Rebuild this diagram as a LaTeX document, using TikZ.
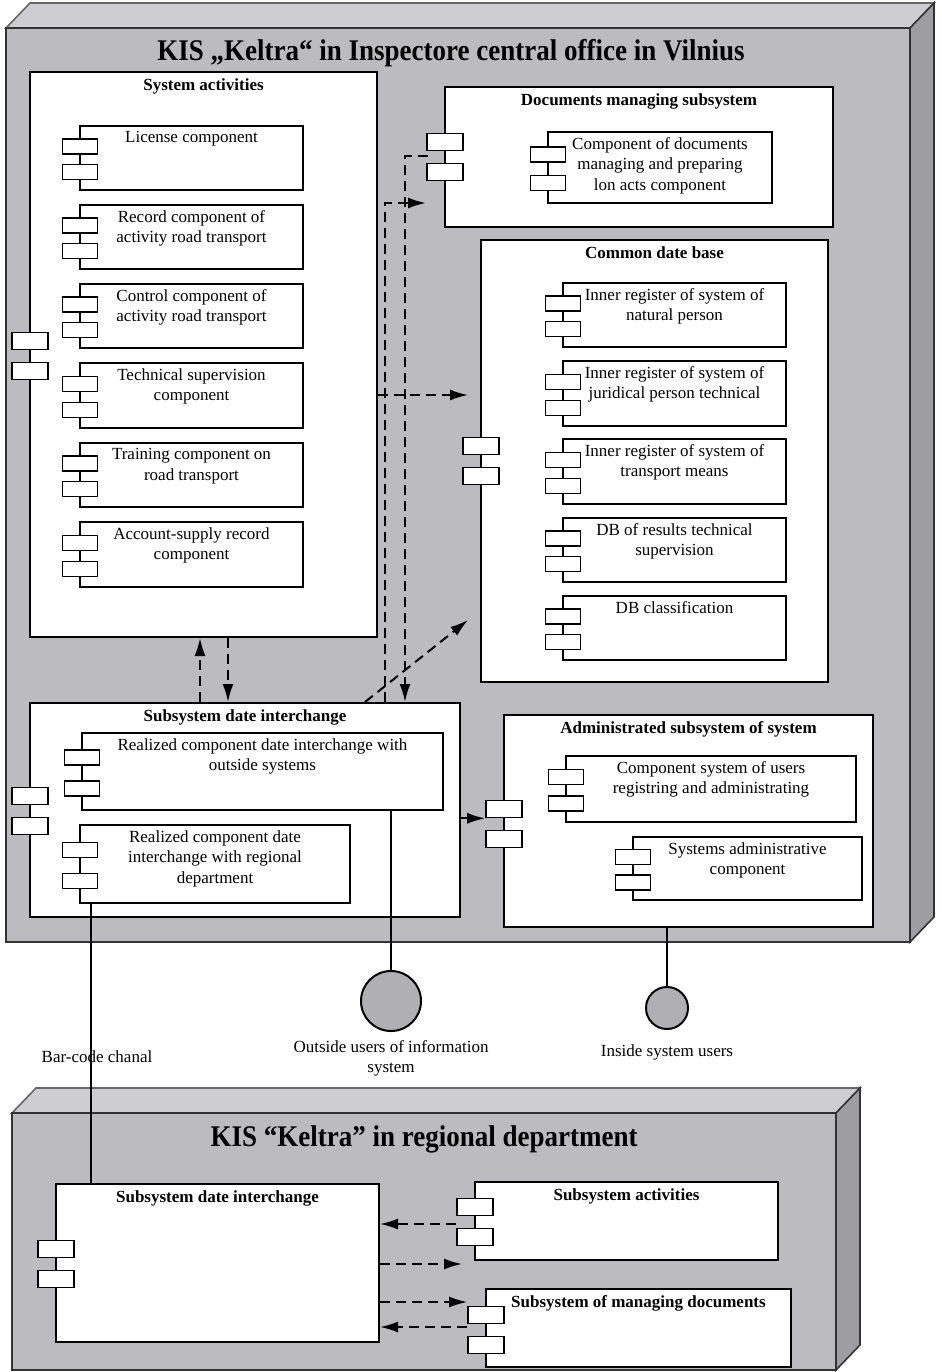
\documentclass[tikz,border=0pt]{standalone}
\usepackage{fontspec}
\setmainfont{Liberation Serif}
\newfontfamily\headfont[FakeStretch=0.9]{Liberation Serif}
\usetikzlibrary{arrows.meta,fit,positioning}
\definecolor{nodefront}{RGB}{188,188,190}
\definecolor{nodetop}{RGB}{206,206,208}
\definecolor{nodeside}{RGB}{158,158,160}
\definecolor{userfill}{RGB}{176,176,178}
\tikzset{
    %Define standard arrow tip
    >={Latex[length=9pt,width=5.5pt]},
    %Define style for subsystem boxes
    subsys/.style={
           rectangle,
           draw=black, line width=1pt,
           fill=white,
           inner sep=0pt},
    compbox/.style={
           rectangle,
           draw=black, line width=0.9pt,
           fill=white,
           inner sep=0pt},
    stub/.style={
           rectangle,
           draw=black, line width=0.8pt,
           fill=white,
           minimum width=17.5pt,
           minimum height=7.5pt,
           inner sep=0pt},
    portstub/.style={
           stub,
           minimum width=18pt,
           minimum height=8.5pt},
    comptext/.style={
           font=\fontsize{8.5}{10.25}\selectfont,
           align=center,
           inner sep=1pt},
    subtitle/.style={
           font=\fontsize{8.5}{10.25}\selectfont\bfseries,
           inner sep=1pt},
    nodetitle/.style={
           font=\headfont\fontsize{15}{18}\selectfont\bfseries},
    users/.style={
           circle,
           draw=black, line width=1pt,
           fill=userfill,
           inner sep=0pt},
    % Define arrow styles
    dep/.style={
           ->,
           line width=1pt,
           dash pattern=on 5pt off 3pt},
    link/.style={
           line width=1pt}
}
% 3D node: x1,y1,x2,y2 of the front face
\newcommand{\nodebox}[4]{%
  \filldraw[fill=nodetop, draw=black!60, line width=0.8pt] (#1,#2) -- ++(24,-25) -- ({#3+24},{#2-25}) -- (#3,#2) -- cycle;
  \filldraw[fill=nodeside, draw=black!80, line width=0.8pt] (#3,#2) -- ({#3+24},{#2-25}) -- ({#3+24},{#4-25}) -- (#3,#4) -- cycle;
  \filldraw[fill=nodefront, draw=black!80, line width=0.8pt] (#1,#2) rectangle (#3,#4);
}
% component: name, x1,y1,x2,y2, text
\newcommand{\umlcomp}[6]{%
  \node[compbox, fit={(#2,#3) (#4,#5)}] (#1) {};
  \node[stub] (#1-a) at (#2,{#3+0.32*(#5-#3)}) {};
  \node[stub] (#1-b) at (#2,{#3+0.72*(#5-#3)}) {};
  \node[comptext, below=2pt of #1.north] (#1-t) {#6};
}
% subsystem: name, x1,y1,x2,y2, title, port y
\newcommand{\umlsubsys}[7]{%
  \node[subsys, fit={(#2,#3) (#4,#5)}] (#1) {};
  \node[portstub] (#1-a) at (#2,{#7-15}) {};
  \node[portstub] (#1-b) at (#2,{#7+15}) {};
  \node[subtitle, below=2.5pt of #1.north] (#1-t) {#6};
}

\begin{document}
\begin{tikzpicture}[x=0.5pt,y=-0.5pt]
\useasboundingbox (0,0) rectangle (942,1372);

% central office
\nodebox{6}{28}{910}{942}
\node[nodetitle] (central-t) at (451,53) {KIS „Keltra“ in Inspectore central office in Vilnius};

\umlsubsys{sa}{30}{72}{377}{637}{System activities}{356}
\umlcomp{sa1}{80}{126}{303}{190}{License component}
\umlcomp{sa2}{80}{205}{303}{269}{Record component of\\activity road transport}
\umlcomp{sa3}{80}{284}{303}{348}{Control component of\\activity road transport}
\umlcomp{sa4}{80}{363}{303}{428}{Technical supervision\\component}
\umlcomp{sa5}{80}{443}{303}{507}{Training component on\\road transport}
\umlcomp{sa6}{80}{522}{303}{587}{Account-supply record\\component}

\umlsubsys{docs}{445}{87}{833}{227}{Documents managing subsystem}{157}
\umlcomp{doc1}{548}{132}{772}{203}{Component of documents\\managing and preparing\\lon acts component}

\umlsubsys{cdb}{481}{240}{828}{682}{Common date base}{461}
\umlcomp{cdb1}{563}{283}{786}{347}{Inner register of system of\\natural person}
\umlcomp{cdb2}{563}{361}{786}{426}{Inner register of system of\\juridical person technical}
\umlcomp{cdb3}{563}{439}{786}{504}{Inner register of system of\\transport means}
\umlcomp{cdb4}{563}{518}{786}{582}{DB of results technical\\supervision}
\umlcomp{cdb5}{563}{596}{786}{660}{DB classification}

\umlsubsys{sdi}{30}{703}{460}{917}{Subsystem date interchange}{811}
\umlcomp{sdi1}{82}{733}{443}{810}{Realized component date interchange with\\outside systems}
\umlcomp{sdi2}{80}{825}{350}{903}{Realized component date\\interchange with regional\\department}

\umlsubsys{adm}{504}{715}{873}{927}{Administrated subsystem of system}{824}
\umlcomp{adm1}{566}{756}{856}{822}{Component system of users\\registring and administrating}
\umlcomp{adm2}{633}{837}{862}{900}{Systems administrative\\component}

% regional department
\nodebox{12}{1113}{836}{1370}
\node[nodetitle] (regional-t) at (424,1139) {KIS “Keltra” in regional department};

\umlsubsys{bsdi}{56}{1184}{379}{1342}{Subsystem date interchange}{1264}
\umlsubsys{bsa}{475}{1182}{778}{1260}{Subsystem activities}{1222}
\umlsubsys{bsmd}{486}{1289}{791}{1367}{Subsystem of managing documents}{1330}

% users
\node[users, minimum size=30pt] (ou) at (391,1001) {};
\node[users, minimum size=21pt] (iu) at (667,1008) {};
\node[comptext, below=3pt of ou] (ou-l) {Outside users of information\\system};
\node[comptext, below=6pt of iu] (iu-l) {Inside system users};
\node[comptext] (bar-l) at (97,1057) {Bar-code chanal};

% helper coordinates
\coordinate (colA) at (200,0);
\coordinate (colB) at (228,0);
\coordinate (colC) at (385,0);
\coordinate (colD) at (405,0);
\coordinate (colE) at (365,0);
\coordinate (bar) at (91,0);
\coordinate (rowA) at (0,395);
\coordinate (docin) at (428,156);
\coordinate (docarr) at (426,203);
\coordinate (cdbarr) at (468,620);
\coordinate (rowB1) at (0,1224);
\coordinate (rowB2) at (0,1264);
\coordinate (rowB3) at (0,1302);
\coordinate (rowB4) at (0,1327);
\coordinate (bsain) at (462,1264);

% dependencies
\draw[dep] (sdi.north -| colA) -- (sa.south -| colA);
\draw[dep] (sa.south -| colB) -- (sdi.north -| colB);
\draw[dep, shorten >=6pt] (sa.east |- rowA) -- (cdb.west |- rowA);
\draw[dep] (docin) -| (sdi.north -| colD);
\draw[dep] (sdi.north -| colC) |- (docarr);
\draw[dep] (sdi.north -| colE) -- (cdbarr);
\draw[link, ->] (sdi.east |- adm-a.south) -- (adm-a.south west);

\draw[dep] (bsa-b.west |- rowB1) -- (bsdi.east |- rowB1);
\draw[dep] (bsdi.east |- rowB2) -- (bsain);
\draw[dep] (bsdi.east |- rowB3) -- (bsmd-a.west |- rowB3);
\draw[dep] (bsmd-b.west |- rowB4) -- (bsdi.east |- rowB4);

% links
\draw[link] (bar |- sdi2.south) -- (bar |- bsdi.north);
\draw[link] (ou.north |- sdi1.south) -- (ou.north);
\draw[link] (iu.north |- adm.south) -- (iu.north);
\end{tikzpicture}
\end{document}
